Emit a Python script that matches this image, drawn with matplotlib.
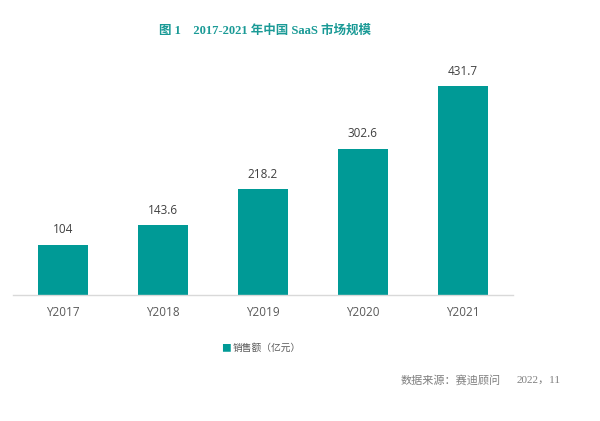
import matplotlib.pyplot as plt

years = ['Y2017', 'Y2018', 'Y2019', 'Y2020', 'Y2021']
sales = [104, 143.6, 218.2, 302.6, 431.7]
value_labels = ['104', '143.6', '218.2', '302.6', '431.7']

teal = '#009a96'
cjk = ['Noto Sans CJK SC', 'DejaVu Sans']


def main():
    fig = plt.figure(figsize=(6, 4.21), dpi=100)
    ax = fig.add_axes([13 / 600, 126 / 421, 500 / 600, 242 / 421])

    x = range(len(years))
    ax.bar(x, sales, width=0.5, color=teal)
    for i, v in enumerate(sales):
        ax.annotate(value_labels[i], (i, v), xytext=(0, 6), textcoords='offset points',
                    ha='center', va='bottom', fontsize=8.5, color='#404040',
                    family=['Open Sans', 'DejaVu Sans'])

    ax.set_xlim(-0.5, 4.5)
    ax.set_ylim(0, 500)
    ax.set_xticks(list(x))
    ax.set_xticklabels(years, fontsize=8.5, color='#595959', family=['Open Sans', 'DejaVu Sans'])
    ax.tick_params(axis='x', length=0, pad=8)
    ax.set_yticks([])
    for s in ['top', 'right', 'left']:
        ax.spines[s].set_visible(False)
    ax.spines['bottom'].set_color('#d9d9d9')
    ax.spines['bottom'].set_linewidth(1)

    # title
    fig.text(265 / 600, 1 - 31 / 421, '图 1    2017-2021 年中国 SaaS 市场规模',
             ha='center', va='center', fontsize=9, fontweight='bold', color='#1a9a96',
             family=['Liberation Serif', 'Noto Sans CJK SC'])

    # legend
    fig.text(226 / 600, 1 - 348 / 421, '■', ha='center', va='center', fontsize=7,
             color=teal, family=cjk)
    fig.text(233 / 600, 1 - 348 / 421, '销售额（亿元）', ha='left', va='center',
             fontsize=7, color='#595959', family=cjk)

    # source
    fig.text(401 / 600, 1 - 380 / 421, '数据来源：赛迪顾问', ha='left', va='center',
             fontsize=8, color='#7f7f7f', family=cjk)
    fig.text(517 / 600, 1 - 380 / 421, '2022，11', ha='left', va='center',
             fontsize=8, color='#7f7f7f', family=['Liberation Serif', 'Noto Sans CJK SC'])

    fig.savefig('out.png', dpi=100)


if __name__ == "__main__":
    main()
